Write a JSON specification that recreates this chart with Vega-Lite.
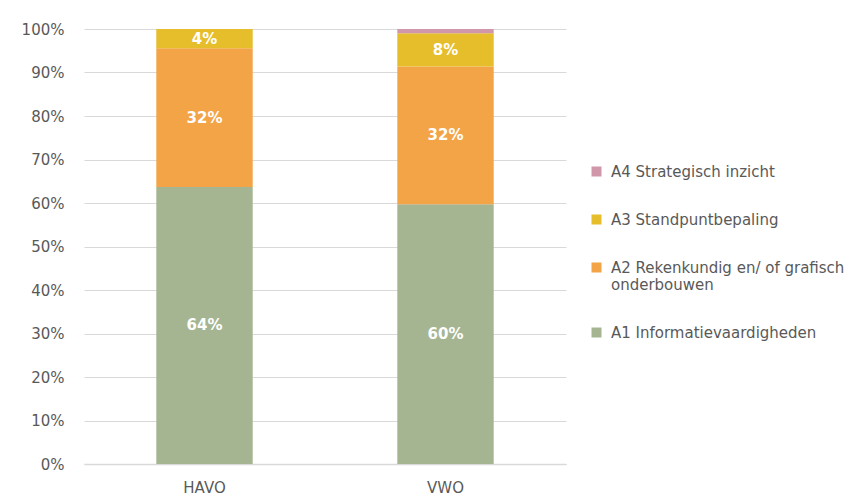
{
  "$schema": "https://vega.github.io/schema/vega-lite/v6.json",
  "width": 482,
  "height": 435,
  "autosize": "none",
  "padding": {"left": 84, "top": 29, "right": 299, "bottom": 36},
  "background": "white",
  "config": {
    "font": "DejaVu Sans",
    "view": {"stroke": null},
    "axis": {"labelFont": "DejaVu Sans", "labelColor": "#595959", "labelFontSize": 15, "ticks": false, "title": null}
  },
  "data": {
    "values": [
      {"niveau": "HAVO", "categorie": "A1 Informatievaardigheden", "waarde": 0.637},
      {"niveau": "HAVO", "categorie": "A2 Rekenkundig en/ of grafisch onderbouwen", "waarde": 0.319},
      {"niveau": "HAVO", "categorie": "A3 Standpuntbepaling", "waarde": 0.044},
      {"niveau": "HAVO", "categorie": "A4 Strategisch inzicht", "waarde": 0.0},
      {"niveau": "VWO", "categorie": "A1 Informatievaardigheden", "waarde": 0.597},
      {"niveau": "VWO", "categorie": "A2 Rekenkundig en/ of grafisch onderbouwen", "waarde": 0.317},
      {"niveau": "VWO", "categorie": "A3 Standpuntbepaling", "waarde": 0.076},
      {"niveau": "VWO", "categorie": "A4 Strategisch inzicht", "waarde": 0.010}
    ]
  },
  "transform": [
    {"stack": "waarde", "groupby": ["niveau"], "sort": [{"field": "categorie", "order": "ascending"}], "as": ["y0", "y1"]},
    {"calculate": "(datum.y0 + datum.y1) / 2", "as": "ymid"}
  ],
  "encoding": {
    "x": {
      "field": "niveau", "type": "nominal",
      "scale": {"paddingInner": 0.6, "paddingOuter": 0.3},
      "axis": {"labelAngle": 0, "labelPadding": 16, "domainColor": "#d9d9d9", "domainWidth": 1.5, "grid": false}
    }
  },
  "layer": [
    {
      "mark": {"type": "bar"},
      "encoding": {
        "y": {
          "field": "y0", "type": "quantitative",
          "scale": {"domain": [0, 1]},
          "axis": {"format": ".0%", "values": [0,0.1,0.2,0.3,0.4,0.5,0.6,0.7,0.8,0.9,1], "labelOverlap": false, "domain": false, "gridColor": "#d9d9d9", "labelPadding": 20}
        },
        "y2": {"field": "y1"},
        "color": {
          "field": "categorie", "type": "nominal",
          "scale": {
            "domain": ["A4 Strategisch inzicht", "A3 Standpuntbepaling", "A2 Rekenkundig en/ of grafisch onderbouwen", "A1 Informatievaardigheden"],
            "range": ["#d096a9", "#e6bd2b", "#f3a447", "#a5b592"]
          },
          "legend": {
            "title": null,
            "orient": "none",
            "legendX": 505,
            "legendY": 135,
            "symbolType": "square",
            "symbolSize": 100,
            "symbolStrokeWidth": 0,
            "labelFont": "DejaVu Sans",
            "labelFontSize": 15,
            "labelColor": "#595959",
            "labelLimit": 300,
            "labelOffset": 7,
            "rowPadding": 32,
            "labelExpr": "datum.label == 'A2 Rekenkundig en/ of grafisch onderbouwen' ? ['A2 Rekenkundig en/ of grafisch', 'onderbouwen'] : datum.label"
          }
        }
      }
    },
    {
      "transform": [{"filter": "datum.waarde > 0.02"}],
      "mark": {"type": "text", "color": "white", "fontWeight": "bold", "fontSize": 15, "font": "DejaVu Sans"},
      "encoding": {
        "y": {
          "field": "ymid", "type": "quantitative",
          "axis": {"format": ".0%", "values": [0,0.1,0.2,0.3,0.4,0.5,0.6,0.7,0.8,0.9,1], "labelOverlap": false, "domain": false, "gridColor": "#d9d9d9", "labelPadding": 20}
        },
        "text": {"field": "waarde", "type": "quantitative", "format": ".0%"}
      }
    }
  ]
}
